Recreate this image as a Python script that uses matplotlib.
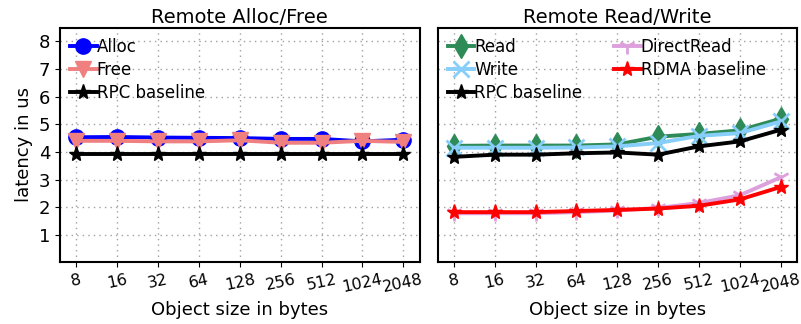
import matplotlib
matplotlib.use("Agg")
import matplotlib.pyplot as plt
import numpy as np

sizes = ["8", "16", "32", "64", "128", "256", "512", "1024", "2048"]

alloc = [4.53, 4.54, 4.52, 4.51, 4.50, 4.47, 4.47, 4.38, 4.44]
free = [4.40, 4.40, 4.38, 4.38, 4.42, 4.33, 4.33, 4.40, 4.36]
rpc_alloc = [3.93, 3.93, 3.93, 3.93, 3.93, 3.93, 3.93, 3.93, 3.93]

read = [4.22, 4.23, 4.23, 4.23, 4.27, 4.55, 4.65, 4.78, 5.20]
write = [4.15, 4.15, 4.15, 4.16, 4.20, 4.32, 4.58, 4.68, 5.10]
rpc_rw = [3.82, 3.90, 3.90, 3.95, 3.98, 3.90, 4.20, 4.38, 4.80]
direct_read = [1.78, 1.78, 1.78, 1.82, 1.88, 1.97, 2.15, 2.43, 3.08]
rdma = [1.82, 1.82, 1.82, 1.86, 1.90, 1.95, 2.05, 2.28, 2.73]

x = np.arange(len(sizes))

fig, (ax1, ax2) = plt.subplots(1, 2, figsize=(8.01, 3.24), dpi=100, sharey=True)
fig.subplots_adjust(left=0.075, right=0.995, top=0.915, bottom=0.19, wspace=0.05)

lw = 2.8
ax1.plot(x, alloc, color="blue", marker="o", markersize=11, linewidth=lw, label="Alloc")
ax1.plot(x, free, color="lightcoral", marker="v", markersize=11, linewidth=lw, label="Free")
ax1.plot(x, rpc_alloc, color="black", marker="*", markersize=11, linewidth=lw, label="RPC baseline")

ax2.plot(x, read, color="seagreen", marker="d", markersize=12, linewidth=lw, label="Read")
ax2.plot(x, write, color="lightskyblue", marker="x", markersize=11, markeredgewidth=2, linewidth=lw, label="Write")
ax2.plot(x, rpc_rw, color="black", marker="*", markersize=11, linewidth=lw, label="RPC baseline")
ax2.plot(x, direct_read, color="plum", marker="1", markersize=12, markeredgewidth=2, linewidth=lw, label="DirectRead")
ax2.plot(x, rdma, color="red", marker="*", markersize=11, linewidth=lw, label="RDMA baseline")

for ax, title in [(ax1, "Remote Alloc/Free"), (ax2, "Remote Read/Write")]:
    ax.set_title(title, fontsize=14, pad=3)
    ax.set_xticks(x)
    ax.set_xticklabels(sizes, rotation=12, fontsize=11.5)
    ax.set_xlim(-0.4, 8.4)
    ax.set_ylim(0, 8.5)
    ax.set_yticks([1, 2, 3, 4, 5, 6, 7, 8])
    ax.tick_params(axis="y", labelsize=13)
    ax.grid(True, linestyle=(0, (1, 3)), color="#a0a0a0", linewidth=1)
    ax.set_xlabel("Object size in bytes", fontsize=13)
    for s in ax.spines.values():
        s.set_linewidth(1.5)

ax2.tick_params(axis="y", length=0)
ax1.set_ylabel("latency in us", fontsize=13)

ax1.legend(loc="upper left", frameon=False, fontsize=12, handlelength=1.6,
           handletextpad=0.0, labelspacing=0.3, borderaxespad=0.2)
ax2.legend(loc="upper left", frameon=False, fontsize=12, ncol=2, handlelength=1.6,
           handletextpad=0.0, labelspacing=0.3, columnspacing=1.9, borderaxespad=0.2)

plt.savefig("out.png", dpi=100)
